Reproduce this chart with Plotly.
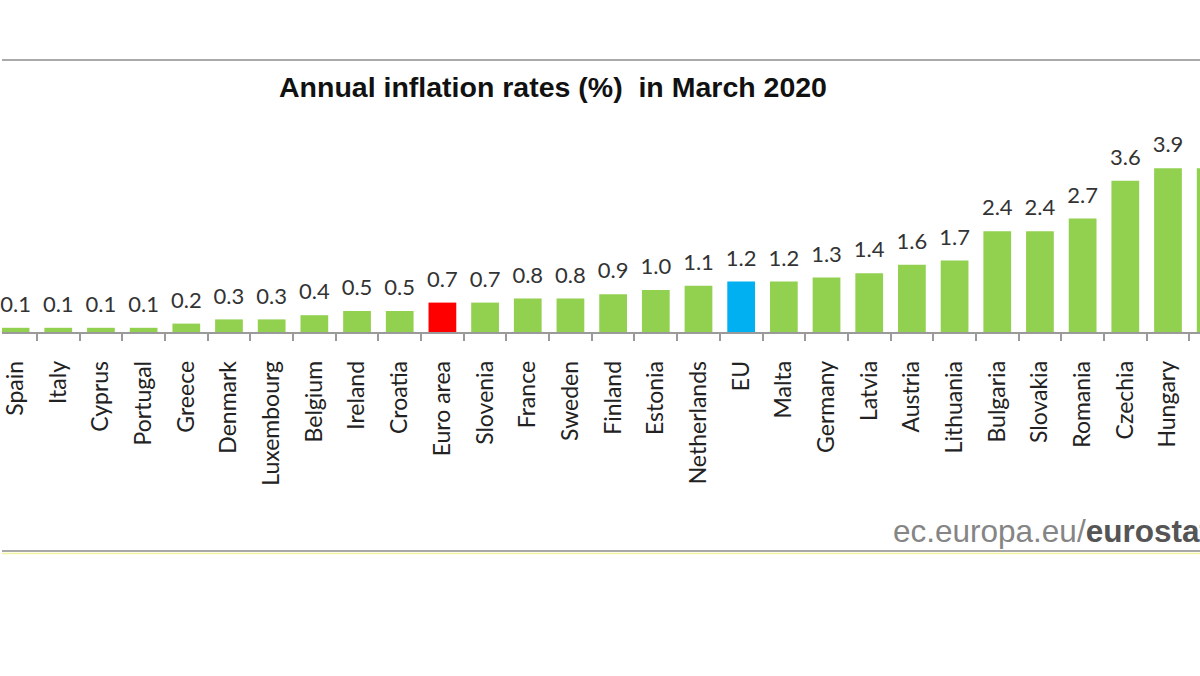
import plotly.graph_objects as go

categories = ["Spain", "Italy", "Cyprus", "Portugal", "Greece", "Denmark", "Luxembourg",
              "Belgium", "Ireland", "Croatia", "Euro area", "Slovenia", "France", "Sweden",
              "Finland", "Estonia", "Netherlands", "EU", "Malta", "Germany", "Latvia",
              "Austria", "Lithuania", "Bulgaria", "Slovakia", "Romania", "Czechia",
              "Hungary", "Poland"]
values = [0.1, 0.1, 0.1, 0.1, 0.2, 0.3, 0.3, 0.4, 0.5, 0.5, 0.7, 0.7, 0.8, 0.8, 0.9,
          1.0, 1.1, 1.2, 1.2, 1.3, 1.4, 1.6, 1.7, 2.4, 2.4, 2.7, 3.6, 3.9, 3.9]
value_labels = [f"{v:.1f}" for v in values]

GREEN = "#92d050"
RED = "#ff0000"
BLUE = "#00b0f0"
colors = [RED if c == "Euro area" else BLUE if c == "EU" else GREEN for c in categories]

W, H = 1200, 676
T, B = 100, 344
plot_h = H - T - B
px_per_unit = 42.0
ymax = plot_h / px_per_unit


def py_to_paper(py):
    return (H - B - py) / plot_h


fig = go.Figure()
fig.add_trace(go.Bar(
    x=categories, y=values, marker=dict(color=colors, line=dict(width=0)),
    hoverinfo="skip", showlegend=False,
))
fig.add_trace(go.Scatter(
    x=categories, y=values, mode="markers+text", text=value_labels,
    marker=dict(size=15, color="rgba(0,0,0,0)"),
    textposition="top center", cliponaxis=False,
    textfont=dict(family="Lato", size=22, color="#333333"),
    hoverinfo="skip", showlegend=False,
))

fig.update_layout(
    width=W, height=H,
    margin=dict(l=0, r=0, t=T, b=B, pad=0),
    paper_bgcolor="white", plot_bgcolor="white",
    bargap=0.35,
    title=dict(text="<b>Annual inflation rates (%)  in March 2020</b>",
               x=553 / W, xanchor="center", y=1 - 87 / H, yanchor="middle",
               font=dict(family="Liberation Sans", size=28.5, color="#111111")),
    xaxis=dict(
        type="category", range=[-0.318, 27.75],
        showline=True, linecolor="#9a9a9a", linewidth=1.5,
        ticks="outside", tickson="boundaries", ticklen=7, tickcolor="#9a9a9a", tickwidth=1.5,
        tickangle=-90, ticklabelstandoff=18,
        tickfont=dict(family="Lato", size=23, color="#222222"),
        showgrid=False, zeroline=False, fixedrange=True,
    ),
    yaxis=dict(visible=False, range=[0, ymax], fixedrange=True),
    annotations=[dict(
        text="<span style='color:#858585'>ec.europa.eu/</span><b><span style='color:#555555'>eurostat</span></b>",
        xref="paper", yref="paper", x=890 / W, y=py_to_paper(531), xanchor="left", yanchor="middle",
        showarrow=False, font=dict(family="Liberation Sans", size=31.5),
    )],
    shapes=[
        dict(type="line", xref="paper", yref="paper", x0=0, x1=1,
             y0=py_to_paper(60), y1=py_to_paper(60), line=dict(color="#aaaaaa", width=2)),
        dict(type="line", xref="paper", yref="paper", x0=0, x1=1,
             y0=py_to_paper(551), y1=py_to_paper(551), line=dict(color="#a8a8a8", width=2)),
        dict(type="line", xref="paper", yref="paper", x0=0, x1=1,
             y0=py_to_paper(553.5), y1=py_to_paper(553.5), line=dict(color="#f2f2a0", width=1.5)),
    ],
)

fig.write_html("out.html", config={"displayModeBar": False},
               post_script="document.body.style.margin='0';")
